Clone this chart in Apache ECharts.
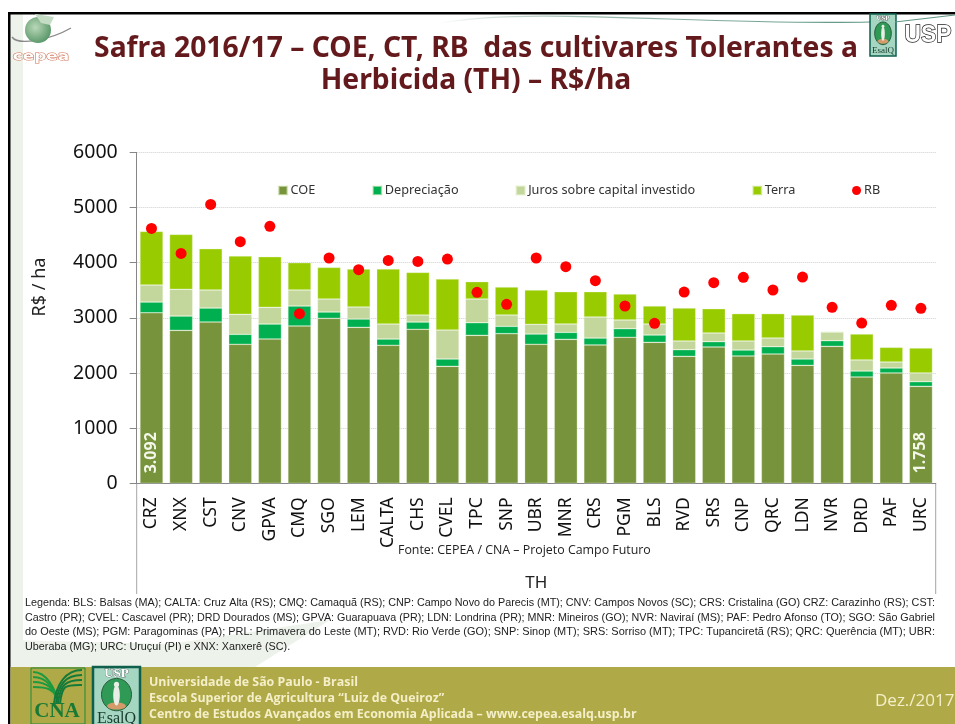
<!DOCTYPE html>
<html><head><meta charset="utf-8">
<style>html,body{margin:0;padding:0;background:#fff}#c{width:955px;height:724px}</style>
<script src="https://cdn.jsdelivr.net/npm/echarts@6/dist/echarts.min.js"></script>
</head><body><div id="c"></div>
<script>
const categories=['CRZ','XNX','CST','CNV','GPVA','CMQ','SGO','LEM','CALTA','CHS','CVEL','TPC','SNP','UBR','MNR','CRS','PGM','BLS','RVD','SRS','CNP','QRC','LDN','NVR','DRD','PAF','URC'];
const coe=[3092,2773,2924,2520,2616,2852,2991,2828,2502,2792,2121,2683,2713,2520,2610,2508,2647,2556,2302,2471,2308,2344,2139,2483,1927,2000,1758];
const depreciacao=[195,260,254,181,272,363,115,151,114,132,133,229,133,187,127,126,157,133,121,97,109,133,115,103,109,91,85];
const juros=[308,484,327,362,302,290,235,217,272,127,525,429,205,175,151,381,157,199,157,157,163,157,145,157,200,108,157];
const terra=[973,997,749,1058,919,495,574,689,997,774,925,315,508,623,586,459,471,327,598,441,496,442,652,0,471,266,453];
const rb=[4622,4169,5057,4381,4659,3076,4085,3873,4042,4024,4066,3462,3245,4085,3927,3674,3215,2900,3468,3637,3734,3505,3740,3190,2906,3227,3172];
const labelled={0:'3.092',26:'1.758'};
const legendLines=[
'Legenda: BLS: Balsas (MA); CALTA: Cruz Alta (RS); CMQ: Camaquã (RS); CNP: Campo Novo do Parecis (MT); CNV: Campos Novos (SC); CRS: Cristalina (GO) CRZ: Carazinho (RS); CST:',
'Castro (PR); CVEL: Cascavel (PR); DRD Dourados (MS); GPVA: Guarapuava (PR); LDN: Londrina (PR); MNR: Mineiros (GO); NVR: Naviraí (MS); PAF: Pedro Afonso (TO); SGO: São Gabriel',
'do Oeste (MS); PGM: Paragominas (PA); PRL: Primavera do Leste (MT); RVD: Rio Verde (GO); SNP: Sinop (MT); SRS: Sorriso (MT); TPC: Tupanciretã (RS); QRC: Querência (MT); UBR:',
'Uberaba (MG); URC: Uruçuí (PI) e XNX: Xanxerê (SC).'];
const footerLines=['Universidade de São Paulo - Brasil','Escola Superior de Agricultura “Luiz de Queiroz”','Centro de Estudos Avançados em Economia Aplicada – www.cepea.esalq.usp.br'];

const ctx=document.createElement('canvas').getContext('2d');
const capFont='10.4px "Liberation Sans"';
ctx.font=capFont;
const capScale=s=>910/ctx.measureText(s).width;

const T=(text,x,y,font,fill,extra)=>Object.assign({type:'text',z:-1,x,y,style:{text,font,fill,textVerticalAlign:'middle',textBaseline:'middle'}},extra||{});
const TC=(text,x,y,font,fill,more,extra)=>Object.assign({type:'text',z:-1,x,y,style:Object.assign({text,font,fill,textAlign:'center',textVerticalAlign:'middle',textBaseline:'middle'},more||{})},extra||{});
const R=(x,y,w,h,fill,extra)=>Object.assign({type:'rect',z:-5,shape:{x,y,width:w,height:h},style:{fill}},extra||{});
const L=(a,b,c,d,stroke,lw)=>({type:'line',z:-2,shape:{x1:a,y1:b,x2:c,y2:d},style:{stroke,lineWidth:lw}});
const bar=(name,data,color,extra)=>Object.assign({name,type:'bar',stack:'t',data,barWidth:'78%',
  itemStyle:{color,borderColor:'rgba(235,245,215,0.55)',borderWidth:0.6},emphasis:{disabled:true}},extra||{});

function esalq(x,y,w,h,b){const cx=x+w/2,cy=y+h*0.46;return [
 {type:'rect',z:-3,shape:{x,y,width:w,height:h},style:{fill:'#a5d6c2',stroke:'#0f5f4d',lineWidth:b}},
 {type:'ellipse',z:-3,shape:{cx,cy,rx:w*0.32,ry:h*0.27},style:{fill:'#2e9a55',stroke:'#2d5b40',lineWidth:1}},
 {type:'ellipse',z:-3,shape:{cx,cy:cy+h*0.19,rx:w*0.2,ry:h*0.06},style:{fill:'#d49a6a'}},
 {type:'ellipse',z:-3,shape:{cx,cy:cy+h*0.01,rx:w*0.07,ry:h*0.17},style:{fill:'#e8eee6'}},
 {type:'circle',z:-3,shape:{cx,cy:cy-h*0.17,r:w*0.055},style:{fill:'#e8eee6'}},
 TC('USP',cx,y+h*0.11,'bold '+Math.round(w*0.27)+'px "Liberation Serif"','#ffffff',{stroke:'#333',lineWidth:0.5}),
 TC('EsalQ',cx,y+h*0.87,Math.round(w*0.33)+'px "Liberation Serif"','#173a2c')
];}
const pale=(pts)=>({type:'polygon',z:-6,shape:{points:pts},style:{fill:'#edf3eb'}});
const fade={type:'linear',x:0,y:0,x2:1,y2:0,colorStops:[{offset:0,color:'rgba(122,165,150,0)'},{offset:0.35,color:'#9dbdb0'},{offset:1,color:'#5f9684'}]};

const graphicEls=[
 pale([[10,14],[23,14],[23,642],[10,642]]),
 pale([[10,640],[170,644],[330,620],[255,667],[10,667]]),
 {type:'bezierCurve',z:-4,shape:{x1:440,y1:23,x2:870,y2:22,cpx1:540,cpy1:6,cpx2:700,cpy2:26},style:{stroke:fade,lineWidth:1.2,fill:'none'}},
 L(895,22,955,15,'#5f9684',1.2),
 R(8,12,947,2.5,'#000'),
 R(8,12,2.5,712,'#000'),
 R(10.5,667,944.5,57,'#afa947'),
 L(136.7,483,136.7,594,'#a6a6a6',1),
 L(935.7,483,935.7,594,'#a6a6a6',1),
 /* cepea logo */
 {type:'bezierCurve',z:-3,shape:{x1:12,y1:37,x2:71,y2:28,cpx1:18,cpy1:46,cpx2:50,cpy2:40},style:{stroke:'#8a8a8a',lineWidth:1.4,fill:'none'}},
 {type:'circle',z:-3,shape:{cx:38,cy:30,r:13},style:{fill:{type:'radial',x:0.4,y:0.4,r:0.7,colorStops:[{offset:0,color:'#b9d8b8'},{offset:1,color:'#4f9060'}]}}},
 {type:'polygon',z:-3,shape:{points:[[35,14],[54,17],[50,25],[41,23]]},style:{fill:'#c4dcc4'}},
 TC('cepea',41,57,'bold 13px "DejaVu Sans"','#ffffff',{stroke:'#cf7256',lineWidth:1},{scaleX:1.3}),
 /* top logos */
 ...esalq(870,14,26,42,1.5),
 TC('USP',928,35,'bold 24px "Liberation Sans"','#ffffff',{stroke:'#1a1a1a',lineWidth:1.4},{scaleX:0.95}),
 /* chart texts */
 TC('R$ / ha',40,287,'18px "Noto Sans"','#222',null,{rotation:Math.PI/2}),
 T('Fonte: CEPEA / CNA – Projeto Campo Futuro',398,550,'12.4px "Open Sans"','#222'),
 ...legendLines.map((s,i)=>{const k=i<3?capScale(s):capScale(legendLines[0]);return T(s,25,603+i*14.7,capFont,'#222',{scaleX:k});}),
 /* footer logos */
 {type:'rect',z:-3,shape:{x:31,y:668,width:54,height:56},style:{fill:'none',stroke:'#1f8a3b',lineWidth:1}},
 ...[0,1,2,3].map(i=>({type:'bezierCurve',z:-3,shape:{x1:33,y1:672+i*5,x2:58,y2:704,cpx1:46,cpy1:672+i*5,cpx2:56,cpy2:688},style:{stroke:'#1d9a3f',lineWidth:2,fill:'none'}})),
 ...[0,1,2,3].map(i=>({type:'bezierCurve',z:-3,shape:{x1:82,y1:670+i*5,x2:54+i*2,y2:704,cpx1:66,cpy1:670+i*5,cpx2:56+i*2,cpy2:684},style:{stroke:'#137a3a',lineWidth:2,fill:'none'}})),
 TC('CNA',57,712,'bold 21px "Liberation Serif"','#1a7a35'),
 ...esalq(93,667,47,60,2.5),
 /* footer text */
 ...footerLines.map((s,i)=>T(s,149,682+i*16,'bold 12.4px "Open Sans"','#f4efc8')),
 T('Dez./2017',875,701,'17px "Open Sans"','#f4efc8')
];

const chart=echarts.init(document.getElementById('c'),null,{renderer:'canvas'});
chart.setOption({
 animation:false,
 backgroundColor:'#ffffff',
 textStyle:{fontFamily:'"Noto Sans"'},
 title:{text:'Safra 2016/17 – COE, CT, RB  das cultivares Tolerantes a\nHerbicida (TH) – R$/ha',left:471,top:28,textAlign:'center',
   textStyle:{fontFamily:'"Noto Sans"',fontWeight:'bold',fontSize:28.3,lineHeight:32,color:'#641a1c'}},
 legend:{left:277.5,top:184,padding:0,itemGap:56.6,itemWidth:9,itemHeight:9,selectedMode:false,
   textStyle:{fontFamily:'"Noto Sans"',fontSize:12.7,color:'#333',padding:[0,0,0,-2]},
   data:[{name:'COE',icon:'rect'},{name:'Depreciação',icon:'rect'},{name:'Juros sobre capital investido',icon:'rect'},{name:'Terra',icon:'rect'},{name:'RB',icon:'circle'}]},
 grid:{left:136.7,right:19.3,top:152.4,bottom:240.7},
 xAxis:{type:'category',data:categories,name:'TH',nameLocation:'middle',nameGap:91,
   nameTextStyle:{fontSize:17,color:'#222',fontFamily:'"Noto Sans"'},
   axisLine:{show:true,lineStyle:{color:'#868686',width:1}},axisTick:{show:false},
   axisLabel:{rotate:90,interval:0,margin:14,fontSize:17.5,color:'#111',fontFamily:'"Noto Sans"',padding:[3,0,0,0]}},
 yAxis:{type:'value',min:0,max:6000,interval:1000,
   axisLine:{show:true,lineStyle:{color:'#868686',width:1}},axisTick:{show:true,length:7,lineStyle:{color:'#868686'}},
   axisLabel:{fontSize:19.5,margin:19,color:'#111',fontFamily:'"Noto Sans"',formatter:v=>String(v)},
   splitLine:{show:true,lineStyle:{color:'#cfcfcf',type:'dotted',width:1}}},
 series:[
  bar('COE',coe.map((v,i)=>labelled[i]?{value:v,label:{show:true,formatter:labelled[i],position:'insideBottom',rotate:90,distance:10,color:'#f4f7ea',fontWeight:'bold',fontSize:16,fontFamily:'"Noto Sans"',align:'left',verticalAlign:'middle'}}:v),'#77933c'),
  bar('Depreciação',depreciacao,'#00b050'),
  bar('Juros sobre capital investido',juros,'#c3d69b'),
  bar('Terra',terra,'#99cc00'),
  {name:'RB',type:'scatter',data:rb,symbol:'circle',symbolSize:11,z:5,itemStyle:{color:'#ff0000',opacity:1},emphasis:{disabled:true}}
 ],
 graphic:{elements:graphicEls}
});
</script></body></html>
